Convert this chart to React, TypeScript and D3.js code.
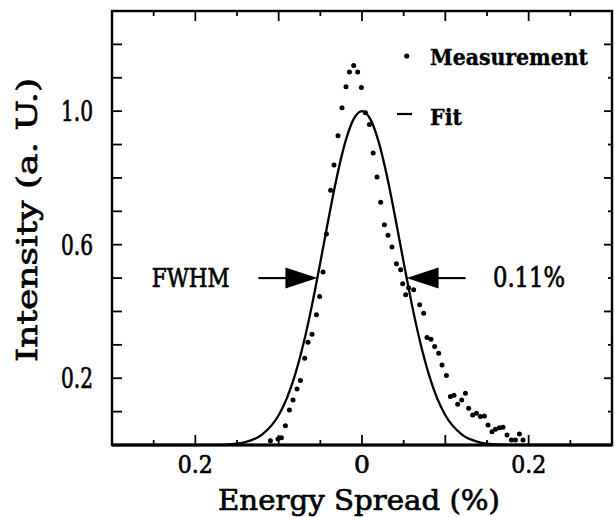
import React from "react";
import * as d3 from "d3";

// ---- Data ----
const measX = [
  -0.1099, -0.1008, -0.0967, -0.0919, -0.0871, -0.0828, -0.078, -0.0739, -0.0688, -0.0648,
  -0.06, -0.0547, -0.0508, -0.0468, -0.0427, -0.0376, -0.0336, -0.0288, -0.024, -0.0192,
  -0.0151, -0.01, -0.0052, -0.0007, 0.0041, 0.0089, 0.0134, 0.018, 0.0224, 0.0269,
  0.0312, 0.036, 0.0413, 0.0464, 0.0488, 0.0524, 0.056, 0.062, 0.0692, 0.074,
  0.078, 0.0828, 0.0872, 0.092, 0.096, 0.1013, 0.1061, 0.1104, 0.1148, 0.1196,
  0.1241, 0.128, 0.1328, 0.1373, 0.1421, 0.1469, 0.1512, 0.156, 0.1601, 0.1649,
  0.1692, 0.174, 0.1793, 0.1841, 0.1889, 0.1932,
];
const measY = [
  0.013, 0.018, 0.022, 0.058, 0.105, 0.135, 0.168, 0.193, 0.26, 0.308,
  0.332, 0.39, 0.445, 0.518, 0.632, 0.763, 0.839, 0.926, 1.01, 1.073,
  1.117, 1.137, 1.117, 1.071, 0.995, 0.96, 0.875, 0.803, 0.727, 0.66,
  0.628, 0.593, 0.543, 0.525, 0.483, 0.45, 0.471, 0.465, 0.42, 0.395,
  0.322, 0.317, 0.295, 0.275, 0.24, 0.208, 0.145, 0.149, 0.122, 0.135,
  0.155, 0.11, 0.09, 0.095, 0.085, 0.087, 0.06, 0.04, 0.047, 0.052,
  0.053, 0.03, 0.015, 0.015, 0.033, 0.015,
];

const fitX = [
  -0.3, -0.26, -0.22, -0.18, -0.16, -0.14, -0.12, -0.1, -0.09, -0.08, -0.07, -0.06, -0.05,
  -0.04, -0.03, -0.02, -0.01, 0, 0.01, 0.02, 0.03, 0.04, 0.05, 0.06, 0.07, 0.08, 0.09,
  0.1, 0.12, 0.14, 0.16, 0.18, 0.22, 0.26, 0.3,
];
const fitY = [
  0, 0, 0, 0.0004, 0.0021, 0.0088, 0.031, 0.089, 0.141, 0.213, 0.306, 0.419, 0.547,
  0.68, 0.805, 0.908, 0.976, 1.0, 0.976, 0.908, 0.805, 0.68, 0.547, 0.419, 0.306, 0.213, 0.141,
  0.089, 0.031, 0.0088, 0.0021, 0.0004, 0, 0, 0,
];

const xTickValues = [-0.2, 0, 0.2];
const xTickLabels = ["0.2", "0", "0.2"];
const yTickValues = [0.2, 0.6, 1.0];
const yTickLabels = ["0.2", "0.6", "1.0"];

const fwhmHalfWidth = 0.0535;
const halfMax = 0.5;

const xLabel = "Energy Spread (%)";
const yLabel = "Intensity (a. U.)";
const legendItems = ["Measurement", "Fit"];
const annotLeft = "FWHM";
const annotRight = "0.11%";

// ---- Layout ----
const W = 615;
const H = 517;
const L = 112;
const R = 612;
const T = 11;
const B = 445;
const FONT = "'DejaVu Serif', serif";

export default function App() {
  const x = d3.scaleLinear().domain([-0.3, 0.3]).range([L, R]);
  const y = d3.scaleLinear().domain([0, 1.3]).range([B, T]);

  const line = d3
    .line<number>()
    .x((_, i) => x(fitX[i]))
    .y((d) => y(d))
    .curve(d3.curveMonotoneX);

  const xTicks = x.ticks(12);
  const yTicks = y.ticks(13);
  const isMajorX = (v: number) => Math.abs(Math.round(v * 10) - v * 10) < 1e-6;
  const isMajorY = (v: number) => Math.abs(Math.round(v * 5) - v * 5) < 1e-6;

  const tipY = y(halfMax);
  const tipL = x(-fwhmHalfWidth);
  const tipR = x(fwhmHalfWidth);
  const headLen = 32;
  const headHalf = 10.5;
  const shaft = 27;

  const txt = { stroke: "#000", strokeWidth: 0.7 } as const;

  return (
    <svg
      width={W}
      height={H}
      style={{ position: "absolute", left: 0, top: 0, background: "#fff" }}
      fontFamily={FONT}
    >
      <rect x={0} y={0} width={W} height={H} fill="#fff" />
      {/* frame */}
      <rect x={L} y={T} width={R - L} height={B - T} fill="none" stroke="#000" strokeWidth={2.4} />
      <line x1={L} x2={R} y1={B} y2={B} stroke="#000" strokeWidth={3.2} />

      {/* x ticks top & bottom */}
      {xTicks.map((v, i) => {
        const len = isMajorX(v) ? 10 : 5;
        return (
          <g key={"xt" + i}>
            <line x1={x(v)} x2={x(v)} y1={B} y2={B - len} stroke="#000" strokeWidth={1.8} />
            <line x1={x(v)} x2={x(v)} y1={T} y2={T + len} stroke="#000" strokeWidth={1.8} />
          </g>
        );
      })}
      {/* y ticks left & right */}
      {yTicks.map((v, i) => {
        const lenR = isMajorY(v) ? 8 : 4;
        return (
          <g key={"yt" + i}>
            <line x1={L} x2={L + 10} y1={y(v)} y2={y(v)} stroke="#000" strokeWidth={1.8} />
            <line x1={R} x2={R - lenR} y1={y(v)} y2={y(v)} stroke="#000" strokeWidth={1.8} />
          </g>
        );
      })}

      {/* tick labels */}
      {xTickValues.map((v, i) => (
        <text
          key={"xl" + i}
          x={x(v)}
          y={473}
          textAnchor="middle"
          fontSize={25}
          textLength={xTickLabels[i].length > 1 ? 35 : undefined}
          lengthAdjust="spacingAndGlyphs"
          {...txt}
        >
          {xTickLabels[i]}
        </text>
      ))}
      {yTickValues.map((v, i) => (
        <text
          key={"yl" + i}
          x={93}
          y={y(v) + 10}
          textAnchor="end"
          fontSize={27}
          textLength={32}
          lengthAdjust="spacingAndGlyphs"
          {...txt}
        >
          {yTickLabels[i]}
        </text>
      ))}

      {/* axis titles */}
      <text
        x={359}
        y={510}
        textAnchor="middle"
        fontSize={28}
        textLength={282}
        lengthAdjust="spacingAndGlyphs"
        {...txt}
      >
        {xLabel}
      </text>
      <text
        transform={`translate(37,220) rotate(-90)`}
        textAnchor="middle"
        fontSize={27.5}
        textLength={284}
        lengthAdjust="spacingAndGlyphs"
        {...txt}
      >
        {yLabel}
      </text>

      {/* fit line */}
      <path d={line(fitY) || ""} fill="none" stroke="#000" strokeWidth={2.3} />

      {/* measurement dots */}
      {measX.map((v, i) => (
        <circle key={"m" + i} cx={x(v)} cy={y(measY[i])} r={2.5} fill="#000" />
      ))}

      {/* legend */}
      <circle cx={406.7} cy={56} r={2.6} fill="#000" />
      <text x={430} y={65} fontSize={22} fontWeight="bold" textLength={158} lengthAdjust="spacingAndGlyphs" {...txt} strokeWidth={0.4}>
        {legendItems[0]}
      </text>
      <line x1={397} x2={412} y1={114} y2={114} stroke="#000" strokeWidth={2.2} />
      <text x={430} y={125} fontSize={22} fontWeight="bold" textLength={32} lengthAdjust="spacingAndGlyphs" {...txt} strokeWidth={0.4}>
        {legendItems[1]}
      </text>

      {/* FWHM arrows */}
      <line x1={tipL - headLen - shaft} x2={tipL - headLen + 1} y1={tipY} y2={tipY} stroke="#000" strokeWidth={2.2} />
      <path
        d={`M${tipL},${tipY} L${tipL - headLen},${tipY - headHalf} L${tipL - headLen},${tipY + headHalf} Z`}
        fill="#000"
      />
      <line x1={tipR + headLen - 1} x2={tipR + headLen + shaft} y1={tipY} y2={tipY} stroke="#000" strokeWidth={2.2} />
      <path
        d={`M${tipR},${tipY} L${tipR + headLen},${tipY - headHalf} L${tipR + headLen},${tipY + headHalf} Z`}
        fill="#000"
      />
      <text x={151.7} y={287} fontSize={26} textLength={78} lengthAdjust="spacingAndGlyphs" {...txt}>
        {annotLeft}
      </text>
      <text x={493} y={287} fontSize={27} textLength={72} lengthAdjust="spacingAndGlyphs" {...txt}>
        {annotRight}
      </text>
    </svg>
  );
}
